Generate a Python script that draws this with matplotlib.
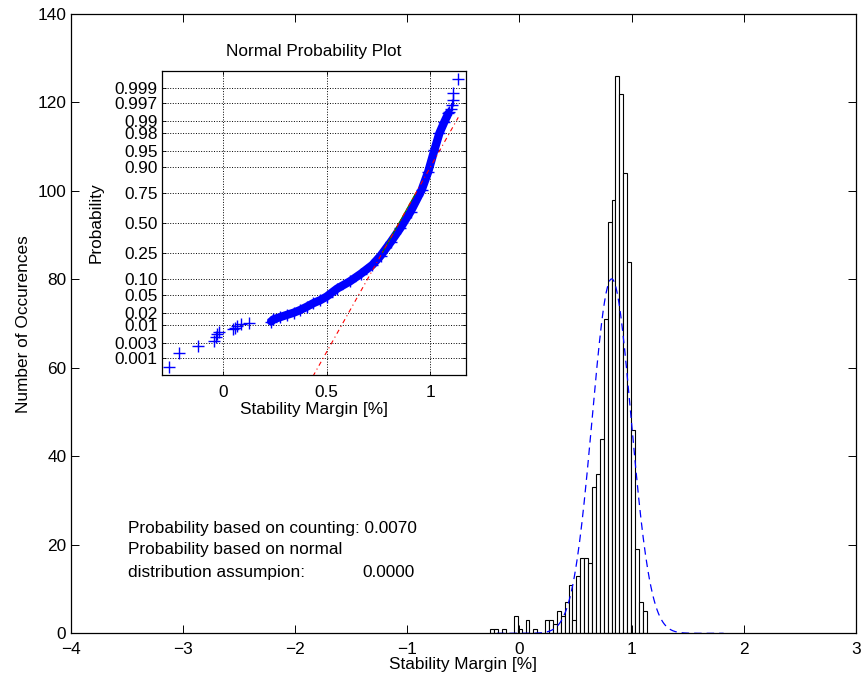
import matplotlib
matplotlib.use('Agg')
import matplotlib.pyplot as plt
import numpy as np
from statistics import NormalDist

plt.rcParams['font.family'] = ['Liberation Sans', 'DejaVu Sans']
plt.rcParams['axes.unicode_minus'] = True

# histogram: counts in 40 equal bins between smallest and largest margin
hist_counts = [1, 1, 0, 1, 0, 0, 4, 1, 0, 3,
               0, 1, 0, 0, 3, 3, 2, 5, 4, 7,
               11, 3, 13, 17, 17, 16, 33, 36, 44, 71,
               93, 98, 126, 122, 104, 84, 46, 19, 7, 5]
data_min, data_max = -0.259, 1.135
fit_range = [-0.20, 1.82]

# normal probability plot (inset): sample value vs normal score
tail_x = [-0.259, -0.212, -0.122, -0.042, -0.035, -0.027, -0.019,
          0.050, 0.058, 0.066, 0.085, 0.127,
          1.092, 1.100, 1.106, 1.108, 1.110, 1.135]
tail_z = [-3.29, -2.97, -2.81, -2.70, -2.61, -2.54, -2.48,
          -2.43, -2.39, -2.35, -2.31, -2.28,
          2.54, 2.61, 2.70, 2.81, 2.97, 3.29]
band_x = [0.232, 0.243, 0.275, 0.307, 0.340, 0.371, 0.405, 0.436, 0.470, 0.500,
          0.550, 0.613, 0.665, 0.720, 0.760, 0.810, 0.855, 0.905, 0.958,
          0.990, 1.020, 1.044, 1.068, 1.087]
band_z = [-2.25, -2.20, -2.15, -2.10, -2.05, -1.99, -1.91, -1.83, -1.76, -1.68,
          -1.50, -1.33, -1.16, -0.96, -0.75, -0.43, -0.12, 0.26, 0.75,
          1.17, 1.67, 2.05, 2.31, 2.50]
quartiles = [0.769, 0.929]

prob_ticks = [0.001, 0.003, 0.01, 0.02, 0.05, 0.10, 0.25, 0.50,
              0.75, 0.90, 0.95, 0.98, 0.99, 0.997, 0.999]
prob_labels = ['0.001', '0.003', '0.01', '0.02', '0.05', '0.10', '0.25', '0.50',
               '0.75', '0.90', '0.95', '0.98', '0.99', '0.997', '0.999']

p_counting = '0.0070'
p_normal = '0.0000'

fs = 12.4

fig = plt.figure(figsize=(8.62, 6.84), dpi=100)
ax = fig.add_axes([0.0818, 0.0741, 0.9113, 0.9054])

counts = np.array(hist_counts)
edges = np.linspace(data_min, data_max, len(counts) + 1)
centers = (edges[:-1] + edges[1:]) / 2
bw = edges[1] - edges[0]
ax.bar(centers, counts, width=bw, color='white', edgecolor='black', linewidth=0.8)

# fitted normal density scaled to the histogram
n = counts.sum()
mu = (counts * centers).sum() / n
sd = np.sqrt((counts * (centers - mu) ** 2).sum() / (n - 1))
xf = np.linspace(fit_range[0], fit_range[1], 300)
yf = n * bw * np.exp(-0.5 * ((xf - mu) / sd) ** 2) / (sd * np.sqrt(2 * np.pi))
ax.plot(xf, yf, color='blue', linestyle=(0, (6, 4)), linewidth=0.9)

ax.set_xlim(-4, 3)
ax.set_ylim(0, 140)
ax.set_xticks(range(-4, 4))
ax.set_yticks(range(0, 141, 20))
ax.tick_params(direction='in', top=True, right=True, length=5.5, width=0.7,
               labelsize=fs)
ax.tick_params(axis='x', pad=6.5)
ax.tick_params(axis='y', pad=3)
for s in ax.spines.values():
    s.set_linewidth(0.9)
ax.set_xlabel('Stability Margin [%]', fontsize=fs, labelpad=0)
ax.set_ylabel('Number of Occurences', fontsize=fs, labelpad=5)

ax.text(-3.485, 23.7, 'Probability based on counting: ' + p_counting,
        fontsize=fs, va='center')
ax.text(-3.485, 19.0, 'Probability based on normal', fontsize=fs, va='center')
ax.text(-3.485, 13.7, 'distribution assumpion:', fontsize=fs, va='center')
ax.text(-0.93, 13.7, p_normal, fontsize=fs, va='center', ha='right')

# inset: normal probability plot
nd = NormalDist()
ins = fig.add_axes([0.1876, 0.4518, 0.3527, 0.4444])
ins.set_axisbelow(True)
ins.grid(True, linestyle=':', color='black', linewidth=0.7)
ins.plot(band_x, band_z, color='blue', linewidth=6, solid_capstyle='round',
         solid_joinstyle='round')
ins.plot(band_x, band_z, '+', color='blue', markersize=8, markeredgewidth=1)
ins.plot(tail_x, tail_z, '+', color='blue', markersize=8, markeredgewidth=1)

q25, q75 = quartiles
zq = nd.inv_cdf(0.75)
m = (q25 + q75) / 2
s = (q75 - q25) / (2 * zq)
lx = np.array([data_min, data_max])
ins.plot(quartiles, [-zq, zq], color=(0, 0.5, 0), linewidth=0.8)
ins.plot(lx, (lx - m) / s, color='red', linestyle=(0, (4, 3, 1, 3)), linewidth=0.8)

ins.set_xlim(-0.296, 1.171)
ins.set_ylim(-3.47, 3.47)
ins.set_xticks([0, 0.5, 1])
ins.set_xticklabels(['0', '0.5', '1'])
ins.set_yticks([nd.inv_cdf(p) for p in prob_ticks])
ins.set_yticklabels(prob_labels)
ins.tick_params(direction='in', top=True, right=True, length=3, width=0.6,
                labelsize=fs)
ins.tick_params(axis='x', pad=7)
ins.tick_params(axis='y', pad=3)
for sp in ins.spines.values():
    sp.set_linewidth(0.9)
ins.set_title('Normal Probability Plot', fontsize=fs, pad=11)
ins.set_xlabel('Stability Margin [%]', fontsize=fs, labelpad=2)
ins.set_ylabel('Probability', fontsize=fs, labelpad=8)

fig.savefig('out.png', dpi=100)
